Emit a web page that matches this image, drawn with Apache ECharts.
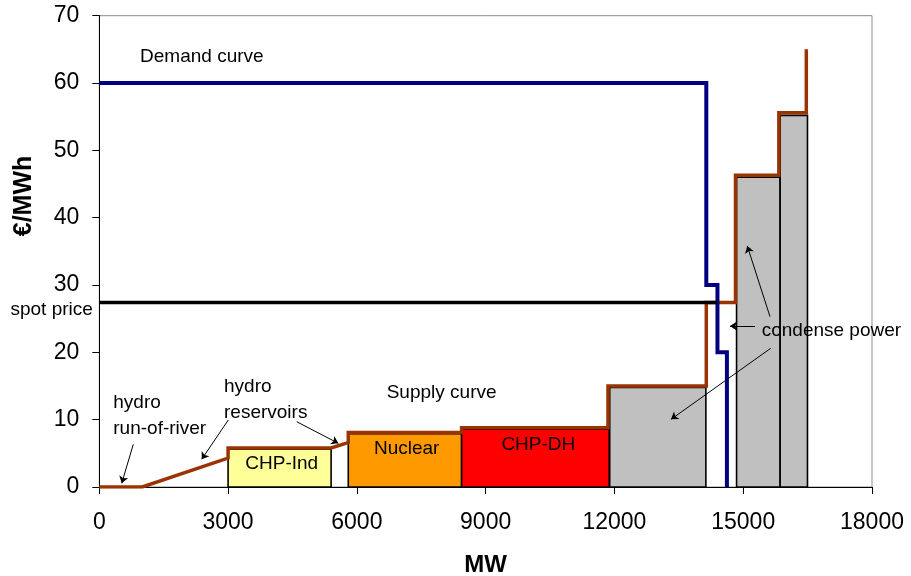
<!DOCTYPE html>
<html>
<head>
<meta charset="utf-8">
<script src="https://cdn.jsdelivr.net/npm/echarts@6/dist/echarts.min.js"></script>
<style>
html,body{margin:0;padding:0;background:#fff;}
#c{width:911px;height:576px;}
</style>
</head>
<body>
<div id="c"></div>
<script>
// ---- data ----
var xTicks = [0, 3000, 6000, 9000, 12000, 15000, 18000];
var yTicks = [0, 10, 20, 30, 40, 50, 60, 70];

// capacity blocks: [MW start, MW end, price top]
var blockNames = ['CHP-Ind', 'Nuclear', 'CHP-DH', 'condense 1', 'condense 2', 'condense 3'];
var blockData = [
  [3000, 5400, 5.6],
  [5800, 8440, 7.9],
  [8440, 11880, 8.6],
  [11890, 14130, 14.8],
  [14845, 15860, 46.0],
  [15860, 16497, 55.2]
];
var blockColors = ['#FFFF99', '#FF9900', '#FF0000', '#C0C0C0', '#C0C0C0', '#C0C0C0'];

// supply curve vertices [MW, €/MWh]
var supplyCurve = [
  [0, 0], [1000, 0], [3000, 4.3], [3000, 5.8], [5400, 5.8], [5800, 6.6],
  [5800, 8.1], [8440, 8.1], [8440, 8.8], [11850, 8.8], [11850, 15.0],
  [14140, 15.0], [14140, 27.4], [14820, 27.4], [14820, 46.3], [15830, 46.3],
  [15830, 55.6], [16470, 55.6], [16470, 65.0]
];

// demand curve vertices [MW, €/MWh]
var demandCurve = [
  [0, 60], [14140, 60], [14140, 30], [14400, 30], [14400, 20],
  [14620, 20], [14620, 0]
];

// spot price line
var spotPrice = [[0, 27.4], [14400, 27.4]];

// text annotations [MW, €/MWh] anchor, text, align
var noteTexts = ['Demand curve', 'spot price', 'hydro\nrun-of-river', 'hydro\nreservoirs',
                 'Supply curve', 'CHP-Ind', 'Nuclear', 'CHP-DH', 'condense power'];
var notePos = [
  [950, 63.9], [-150, 26.3], [326, 10.65], [2905, 13.0],
  [6695, 14.0], [4249, 3.5], [7160, 5.75], [10227, 6.34], [15430, 23.2]
];
var noteAlign = ['left', 'right', 'left', 'left', 'left', 'center', 'center', 'center', 'left'];

// arrows [[from],[to]]
var arrows = [
  [[792, 6.34], [522, 0.55]],
  [[3005, 9.95], [2385, 4.11]],
  [[4598, 9.7], [5568, 6.49]],
  [[15624, 25.3], [15095, 35.8]],
  [[15275, 23.9], [14692, 23.9]],
  [[15640, 20.6], [13318, 10.05]]
];

// ---- chart ----
var FONT = "'Liberation Sans', Arial, sans-serif";
var chart = echarts.init(document.getElementById('c'), null, {renderer: 'canvas'});

var option = {
  backgroundColor: '#fff',
  animation: false,
  grid: {
    left: 99.3, right: 39, top: 15.7, bottom: 89,
    containLabel: false, outerBoundsMode: 'none',
    show: true, borderColor: '#8c8c8c', borderWidth: 1, backgroundColor: 'transparent'
  },
  xAxis: {
    type: 'value', min: xTicks[0], max: xTicks[xTicks.length - 1], interval: 3000,
    name: 'MW', nameLocation: 'middle', nameGap: 66,
    nameTextStyle: {fontFamily: FONT, fontSize: 24, fontWeight: 'bold', color: '#000'},
    axisLine: {show: true, lineStyle: {color: '#000', width: 1}},
    axisTick: {show: true, inside: false, length: 7, lineStyle: {color: '#000'}},
    axisLabel: {fontFamily: FONT, fontSize: 23, color: '#000', margin: 24,
                formatter: function (v) { return String(v); }},
    splitLine: {show: false}
  },
  yAxis: {
    type: 'value', min: yTicks[0], max: yTicks[yTicks.length - 1], interval: 10,
    axisLine: {show: true, lineStyle: {color: '#000', width: 1}},
    axisTick: {show: true, inside: false, length: 7, lineStyle: {color: '#000'}},
    axisLabel: {fontFamily: FONT, fontSize: 23, color: '#000', margin: 20},
    splitLine: {show: false}
  },
  graphic: [{
    type: 'text', x: 24, y: 196, rotation: Math.PI / 2,
    style: {text: '€/MWh', font: 'bold 25px ' + FONT, fill: '#000', align: 'center', verticalAlign: 'middle'}
  }],
  series: [
    {
      type: 'custom', name: 'blocks', z: 2,
      data: blockData,
      renderItem: function (params, api) {
        var p0 = api.coord([api.value(0), api.value(2)]);
        var p1 = api.coord([api.value(1), 0]);
        return {
          type: 'rect',
          shape: {x: p0[0], y: p0[1], width: p1[0] - p0[0], height: p1[1] - p0[1]},
          style: {fill: blockColors[params.dataIndex], stroke: '#000', lineWidth: 1.6}
        };
      }
    },
    {
      type: 'line', name: 'Supply curve', z: 3, data: supplyCurve,
      showSymbol: false, symbol: 'none',
      lineStyle: {color: '#993300', width: 3.5, join: 'miter'}
    },
    {
      type: 'line', name: 'Demand curve', z: 4, data: demandCurve,
      showSymbol: false, symbol: 'none',
      lineStyle: {color: '#000080', width: 4, join: 'miter'}
    },
    {
      type: 'line', name: 'spot price', z: 5, data: spotPrice,
      showSymbol: false, symbol: 'none',
      lineStyle: {color: '#000', width: 3.5}
    },
    {
      type: 'lines', name: 'arrows', coordinateSystem: 'cartesian2d', z: 6,
      symbol: ['none', 'arrow'], symbolSize: 7,
      lineStyle: {color: '#000', width: 1, opacity: 1},
      data: arrows.map(function (a) { return {coords: a}; })
    },
    {
      type: 'custom', name: 'notes', z: 7, clip: false,
      data: notePos,
      renderItem: function (params, api) {
        var p = api.coord([api.value(0), api.value(1)]);
        var i = params.dataIndex;
        return {
          type: 'text', x: p[0], y: p[1],
          style: {
            text: noteTexts[i], font: '19px ' + FONT, fill: '#000',
            align: noteAlign[i], verticalAlign: 'middle', lineHeight: 26
          }
        };
      }
    }
  ]
};
chart.setOption(option);
</script>
</body>
</html>
